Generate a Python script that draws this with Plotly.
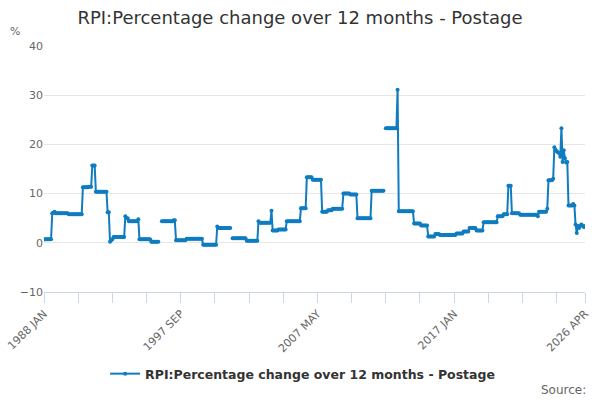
import plotly.graph_objects as go

# monthly RPI postage, % change over 12 months (None = no published value)
MONTHS = ["JAN", "FEB", "MAR", "APR", "MAY", "JUN",
          "JUL", "AUG", "SEP", "OCT", "NOV", "DEC"]
FIRST_YEAR = 1988
LAST_YEAR = 2026

postage = [
    0.7, 0.7, 0.7, 0.7, 0.7, 0.7, 0.7, 6.0, 6.1, 6.3, 6.0, 6.0,          # 1988
    6.0, 6.0, 6.0, 6.0, 6.0, 6.0, 6.0, 6.0, 6.0, 5.8, 5.8, 5.8,          # 1989
    5.8, 5.8, 5.8, 5.8, 5.8, 5.8, 5.8, 5.8, 5.8, 11.3, 11.3, 11.3,       # 1990
    11.3, 11.3, 11.4, 11.4, 11.4, 15.7, 15.7, 15.7, 10.4, 10.4, 10.4, 10.4,  # 1991
    10.4, 10.4, 10.4, 10.4, 10.4, 10.4, 6.2, 6.2, 0.2, 0.5, 0.7, 1.2,    # 1992
    1.2, 1.2, 1.2, 1.2, 1.2, 1.2, 1.2, 1.2, 1.2, 5.4, 5.0, 5.0,          # 1993
    4.4, 4.4, 4.4, 4.4, 4.4, 4.4, 4.4, 4.4, 4.8, 0.7, 0.7, 0.7,          # 1994
    0.7, 0.7, 0.7, 0.7, 0.7, 0.7, 0.7, 0.2, 0.2, 0.2, 0.2, 0.2,          # 1995
    0.2, 0.2, None, None, 4.4, 4.4, 4.4, 4.4, 4.4, 4.4, 4.4, 4.4,        # 1996
    4.4, 4.4, 4.6, 4.6, 0.5, 0.5, 0.5, 0.5, 0.5, 0.5, 0.5, 0.5,          # 1997
    0.5, 0.8, 0.8, 0.8, 0.8, 0.8, 0.8, 0.8, 0.8, 0.8, 0.8, 0.8,          # 1998
    0.8, 0.8, 0.8, -0.4, -0.4, -0.4, -0.4, -0.4, -0.4, -0.4, -0.4, -0.4,  # 1999
    -0.4, -0.4, -0.4, 3.3, 3.0, 3.0, 3.0, 3.0, 3.0, 3.0, 3.0, 3.0,       # 2000
    3.0, 3.0, 3.0, None, 0.9, 0.9, 0.9, 0.9, 0.9, 0.9, 0.9, 0.9,         # 2001
    0.9, 0.9, 0.9, 0.9, 0.4, 0.4, 0.4, 0.4, 0.4, 0.4, 0.4, 0.4,          # 2002
    0.4, 0.4, 4.4, 4.1, 4.1, 4.1, 4.1, 4.1, 4.1, 4.1, 4.1, 4.1,          # 2003
    4.1, 6.5, 2.5, 2.5, 2.5, 2.5, 2.5, 2.7, 2.7, 2.7, 2.7, 2.7,          # 2004
    2.7, 2.7, 4.4, 4.4, 4.4, 4.4, 4.4, 4.4, 4.4, 4.4, 4.4, 4.4,          # 2005
    4.4, 4.4, 7.0, 7.0, 7.0, 7.0, 7.0, 13.3, 13.3, 13.3, 13.3, 13.3,     # 2006
    12.8, 12.8, 12.8, 12.8, 12.8, 12.8, 12.8, 12.8, 6.3, 6.3, 6.3, 6.3,  # 2007
    6.3, 6.6, 6.6, 6.6, 6.6, 6.9, 6.9, 6.9, 6.9, 6.9, 6.9, 6.9,          # 2008
    6.9, 6.9, 10.0, 10.0, 10.0, 10.0, 10.0, 10.0, 9.8, 9.8, 9.8, 9.8,    # 2009
    9.8, 9.8, 5.0, 5.0, 5.0, 5.0, 5.0, 5.0, 5.0, 5.0, 5.0, 5.0,          # 2010
    5.0, 5.0, 10.6, 10.6, 10.6, 10.6, 10.6, 10.6, 10.6, 10.6, 10.6, 10.6,  # 2011
    10.6, None, 23.3, 23.3, 23.3, 23.3, 23.3, 23.3, 23.3, 23.3, 23.3, 23.3,  # 2012
    31.1, 6.4, 6.4, 6.4, 6.4, 6.4, 6.4, 6.4, 6.4, 6.4, 6.4, 6.4,         # 2013
    6.4, 6.4, 3.9, 3.9, 3.9, 3.9, 3.9, 3.9, 3.5, 3.5, 3.5, 3.5,          # 2014
    3.5, 3.5, 1.3, 1.3, 1.3, 1.3, 1.3, 1.3, 1.8, 1.8, 1.8, 1.8,          # 2015
    1.6, 1.6, 1.6, 1.6, 1.6, 1.6, 1.6, 1.6, 1.6, 1.6, 1.6, 1.6,          # 2016
    1.6, 1.6, 1.9, 1.9, 1.9, 1.9, 1.9, 1.9, 2.3, 2.3, 2.3, 2.3,          # 2017
    2.3, 3.0, 3.0, 3.0, 3.0, 3.0, 3.0, 2.5, 2.5, 2.5, 2.5, 2.5,          # 2018
    2.5, 4.2, 4.2, 4.2, 4.2, 4.2, 4.2, 4.2, 4.2, 4.2, 4.2, 4.2,          # 2019
    4.2, 5.4, 5.4, 5.4, 5.4, 5.4, 5.8, 5.8, 5.8, 5.8, 11.6, 11.6,        # 2020
    11.6, 6.0, 6.0, 6.0, 6.0, 6.0, 6.0, 6.0, 5.7, 5.7, 5.7, 5.7,         # 2021
    5.7, 5.7, 5.7, 5.7, 5.7, 5.7, 5.7, 5.7, 5.7, 5.7, 5.7, 5.4,          # 2022
    6.3, 6.3, 6.3, 6.3, 6.3, 6.3, 6.3, 6.9, 12.7, 12.7, 12.7, 12.7,      # 2023
    13.0, 19.4, 18.9, 18.6, 18.4, 18.2, 17.5, 23.3, 16.4, 18.8, 17.2, 16.3,  # 2024
    16.4, 7.6, 7.6, 7.6, 7.6, 7.9, 7.6, 3.7, 2.0, 3.4, 3.0, 3.5,         # 2025
    3.7, 3.4, 3.2, 3.4,                                                  # 2026
]

periods = [f"{y} {m}" for y in range(FIRST_YEAR, LAST_YEAR + 1) for m in MONTHS]
periods = periods[:len(postage)]

TICK_EVERY = 29
LABELLED = ["1988 JAN", "1997 SEP", "2007 MAY", "2017 JAN", "2026 APR"]

tick_vals = periods[::TICK_EVERY] + [periods[-1]]
tick_text = [p if p in LABELLED else "" for p in tick_vals]

BLUE = "#0f7cc0"
GREY = "#666666"

fig = go.Figure()
fig.add_trace(go.Scatter(
    x=periods,
    y=postage,
    mode="lines+markers",
    name="RPI:Percentage change over 12 months - Postage",
    line=dict(color=BLUE, width=2),
    marker=dict(color=BLUE, size=4),
    connectgaps=False,
))

fig.update_layout(
    width=600,
    height=400,
    margin=dict(l=44, r=15, t=46, b=107),
    paper_bgcolor="white",
    plot_bgcolor="white",
    font=dict(family="DejaVu Sans", color=GREY, size=11),
    title=dict(
        text="RPI:Percentage change over 12 months - Postage",
        x=0.5, xanchor="center", y=0.955, yanchor="middle",
        font=dict(size=18, color="#333333"),
    ),
    showlegend=True,
    legend=dict(
        orientation="h", x=0.478, xanchor="center",
        y=-0.328, yanchor="middle",
        font=dict(size=12.5, color="#333333", weight="bold"),
    ),
    annotations=[
        dict(text="%", xref="paper", yref="paper", x=-0.054, y=1.057,
             xanchor="center", yanchor="middle", showarrow=False,
             font=dict(size=11, color=GREY)),
        dict(text="Source:", xref="paper", yref="paper", x=1.006, y=-0.397,
             xanchor="right", yanchor="middle", showarrow=False,
             font=dict(size=12, color=GREY)),
    ],
)

fig.update_xaxes(
    type="category",
    automargin=False,
    range=[0, len(postage) - 1],
    tickmode="array",
    tickvals=tick_vals,
    ticktext=tick_text,
    tickangle=-45,
    ticks="outside",
    ticklen=10,
    tickcolor="#ccd6eb",
    showline=True,
    linecolor="#ccd6eb",
    showgrid=False,
    zeroline=False,
    tickfont=dict(size=11, color=GREY),
)

fig.update_yaxes(
    automargin=False,
    range=[-10, 40],
    tickvals=[-10, 0, 10, 20, 30, 40],
    showgrid=True,
    gridcolor="#e6e6e6",
    zeroline=False,
    ticks="",
    tickfont=dict(size=11, color=GREY),
)

# drop the browser's default 8px body margin so the 600x400 figure fills the window
fig.write_html(
    "out.html",
    config={"displayModeBar": False},
    post_script="document.body.style.margin = '0';",
)
